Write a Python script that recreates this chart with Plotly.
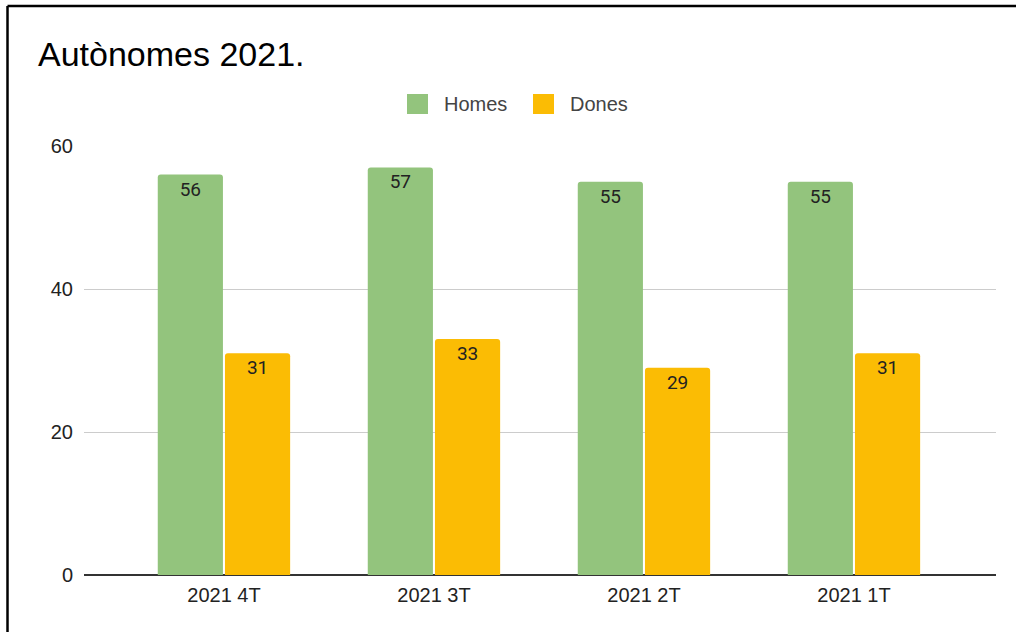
import plotly.graph_objects as go

categories = ["2021 4T", "2021 3T", "2021 2T", "2021 1T"]
homes = [56, 57, 55, 55]
dones = [31, 33, 29, 31]
series_names = ["Homes", "Dones"]
colors = ["#93c47d", "#fbbc04"]
y_ticks = [0, 20, 40, 60]

W, H = 1016, 632
L, R, T, B = 84, 20, 146, 57
pw, ph = W - L - R, H - T - B

def px(x):
    return (x - L) / pw

def py(y):
    return (H - B - y) / ph

xpos = list(range(len(categories)))
fig = go.Figure()
for name, vals, col in zip(series_names, [homes, dones], colors):
    fig.add_trace(go.Bar(
        x=xpos, y=vals, name=name, marker=dict(color=col, line=dict(width=0)),
        text=[str(v) for v in vals], textposition="inside", insidetextanchor="end",
        textangle=0, textfont=dict(family="Roboto", size=19, color="#222222"),
        showlegend=False,
    ))

span = pw / 210.0
pad = (span - len(categories)) / 2
fig.update_layout(
    width=W, height=H,
    margin=dict(l=L, r=R, t=T, b=B),
    paper_bgcolor="white", plot_bgcolor="white",
    barmode="group", bargap=0.36, bargroupgap=0.03, barcornerradius=3,
    font=dict(family="Liberation Sans, Arial", color="#222222"),
    title=dict(text="Autònomes 2021.", x=38 / W, xanchor="left", xref="container",
               y=1 - 54 / H, yanchor="middle", yref="container",
               font=dict(size=34, color="#000000", family="Liberation Sans, Arial")),
    xaxis=dict(tickvals=xpos, ticktext=categories, range=[-0.5 - pad + 0.005, len(categories) - 0.5 + pad + 0.005],
               showgrid=False, zeroline=False, showline=False, ticks="",
               tickfont=dict(size=20, color="#222222"), ticklabelstandoff=6),
    yaxis=dict(range=[0, 60], tickvals=y_ticks, showgrid=True, gridcolor="#cccccc", gridwidth=1,
               zeroline=True, zerolinecolor="#333333", zerolinewidth=2, showline=False, ticks="",
               tickfont=dict(size=20, color="#222222"), ticklabelstandoff=10),
    showlegend=False,
)

# frame of the screenshot (top and left edges)
fig.add_shape(type="line", xref="paper", yref="paper", x0=px(7.5), x1=px(1016), y0=py(6), y1=py(6),
              line=dict(color="black", width=2.5))
fig.add_shape(type="line", xref="paper", yref="paper", x0=px(7.5), x1=px(7.5), y0=py(6), y1=py(632),
              line=dict(color="black", width=2.5))

# custom legend
leg = [(407, 442), (533, 568)]
for (sx, tx), name, col in zip(leg, series_names, colors):
    fig.add_shape(type="rect", xref="paper", yref="paper", x0=px(sx), x1=px(sx + 21),
                  y0=py(114), y1=py(94), fillcolor=col, line=dict(width=0))
    fig.add_annotation(xref="paper", yref="paper", x=px(tx), y=py(104), text=name,
                       showarrow=False, xanchor="left", yanchor="middle",
                       font=dict(size=20, color="#444444", family="Liberation Sans, Arial"))

fig.write_html("out.html", config={"displayModeBar": False},
               post_script="document.body.style.margin='0';document.body.style.overflow='hidden';")
